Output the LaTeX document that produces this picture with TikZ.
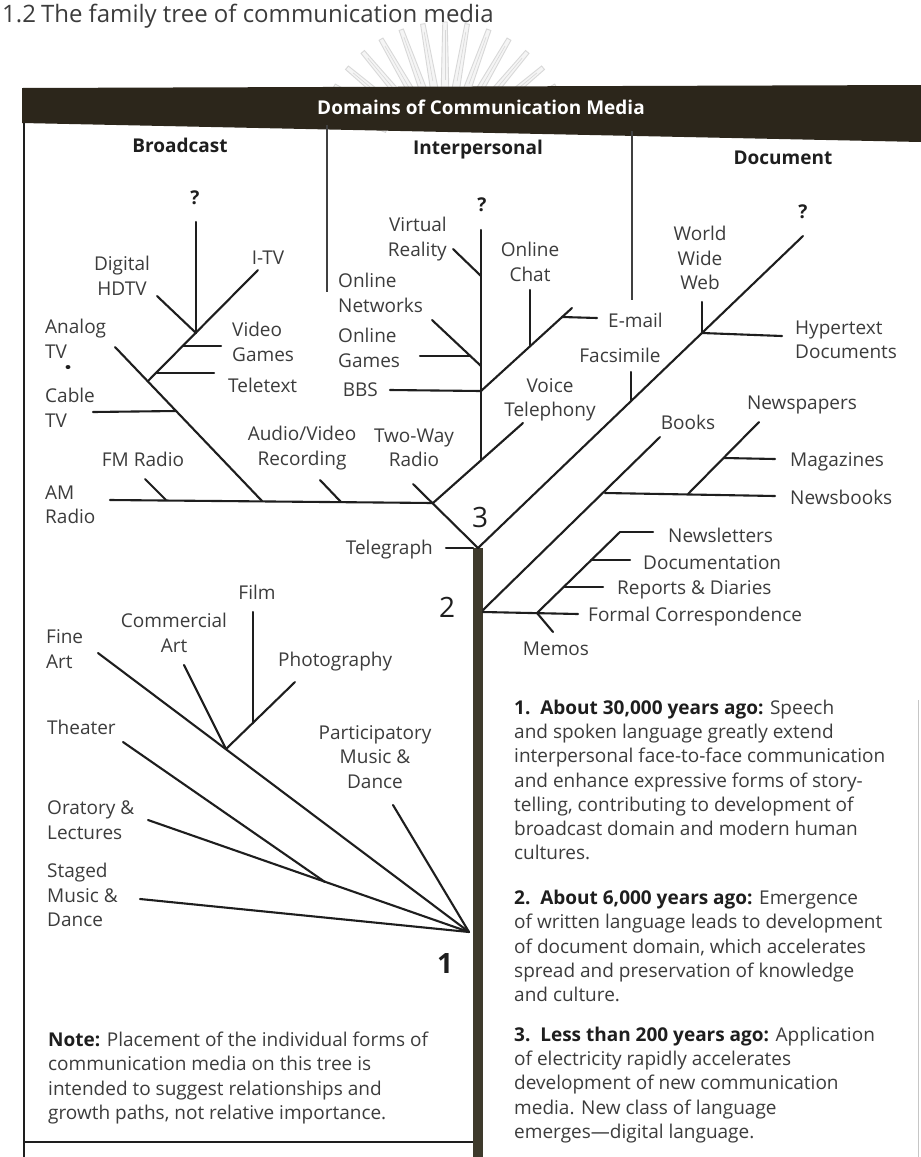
\documentclass[tikz,border=0pt]{standalone}
\usepackage{fontspec}
\setmainfont{Open Sans}
\definecolor{linec}{HTML}{1E1E1E}
\definecolor{txtc}{HTML}{3C3C3C}
\definecolor{barc}{HTML}{2C261B}
\definecolor{trunkc}{HTML}{3E3A2C}
\definecolor{wmc}{HTML}{D8D8D8}
\newcommand\lbfont{\fontsize{19}{24.5}\selectfont}
\newcommand\hdrfont{\fontsize{19}{24}\selectfont\bfseries}
\newcommand\numfont{\fontsize{28}{30}\selectfont}
\newcommand\capfont{\fontsize{24}{30}\selectfont}
\newcommand\parfont{\fontsize{19}{24.2}\selectfont}
\begin{document}
\begin{tikzpicture}[x=1pt,y=-1pt,
  br/.style={draw=linec,line width=2.1pt,line cap=round},
  colline/.style={draw=linec!85,line width=1.6pt},
  frame/.style={draw=linec,line width=2.4pt},
  lbl/.style={font=\lbfont,text=txtc,inner sep=0pt,align=center},
  lbll/.style={lbl,align=left,anchor=west},
  lblr/.style={lbl,align=right,anchor=east},
  hdr/.style={font=\hdrfont,text=linec,inner sep=0pt},
  qm/.style={font=\hdrfont,text=linec,inner sep=0pt},
  num/.style={font=\numfont,text=linec,inner sep=0pt},
  para/.style={font=\parfont,text=txtc,inner sep=0pt,align=left,anchor=west}]
\useasboundingbox (0,0) rectangle (921,1157);
\clip (0,0) rectangle (921,1157);
\fill[white] (0,0) rectangle (921,1157);

% faint emblem behind the header
\begin{scope}[shift={(445,150)}]
  \foreach \a in {-160,-150,...,-20} {
    \filldraw[fill=wmc!25,draw=wmc,line width=0.9pt]
      (\a-3.5:62) -- (\a-1:128) -- (\a+1:128) -- (\a+3.5:62) -- cycle;
    \draw[wmc,line width=0.6pt] (\a:70) -- (\a:120);
  }
\end{scope}

% caption
\node[anchor=base west,font=\capfont,text=txtc,inner sep=0pt] (cap) at (2,22)
  {1.2\hspace{5pt}The family tree of communication media};

% header bar and frame
\fill[barc] (22,88) -- (921,85) -- (921,142) -- (22,123) -- cycle;
\node[font=\hdrfont,text=white,inner sep=0pt] (title) at (481,107) {Domains of Communication Media};
\draw[frame] (24,123) -- (24,1157);
\draw[frame] (24,1142) -- (473,1142);
\draw[draw=gray!45,line width=1pt] (918,700) -- (918,1157);
\draw[colline] (327,125) -- (327,292);
\draw[colline] (632,131) -- (632,300);

\node[hdr] (hB) at (180,145) {Broadcast};
\node[hdr] (hI) at (478,150) {Interpersonal};
\node[hdr] (hD) at (783,158) {Document};

% trunk
\fill[trunkc] (473,548) rectangle (483,1157);

% ---------- broadcast branch ----------
\coordinate (bqt) at (196,222);
\coordinate (bj1) at (196,333);
\coordinate (itvE) at (258,270);
\coordinate (hdE) at (157,296);
\coordinate (bj2) at (148,381);
\coordinate (vg0) at (183,346);
\coordinate (vg1) at (221,346);
\coordinate (tt0) at (157,373);
\coordinate (tt1) at (214,373);
\coordinate (atvE) at (115,347);
\coordinate (ajn) at (262,501);
\coordinate (ctE) at (93,412);
\coordinate (ct0) at (176,411);
\coordinate (amE) at (110,500);
\coordinate (tj) at (433,503);
\coordinate (fmE) at (145,479);
\coordinate (fm0) at (166,500);
\coordinate (avE) at (320,480);
\coordinate (av0) at (341,502);
\coordinate (twE) at (413,484);
\coordinate (j3) at (478,548);
\coordinate (tgE) at (446,548);
\coordinate (tg0) at (473,548);

\draw[br] (bqt) -- (bj1);
\draw[br] (itvE) -- (bj2);
\draw[br] (hdE) -- (bj1);
\draw[br] (vg0) -- (vg1);
\draw[br] (tt0) -- (tt1);
\draw[br] (atvE) -- (ajn);
\draw[br] (ctE) -- (ct0);
\draw[br] (amE) -- (tj);
\draw[br] (fmE) -- (fm0);
\draw[br] (avE) -- (av0);
\draw[br] (twE) -- (j3);
\draw[br] (tgE) -- (tg0);
\fill[linec] (68,367) ellipse (2.5pt and 2pt);

\node[qm] (q1) at (195,198) {?};
\node[lbl] (ldh) at (122,276) {Digital\\HDTV};
\node[lbl] (litv) at (268,258) {I-TV};
\node[lbll] (latv) at (45,339) {Analog\\TV};
\node[lbll] (lvg) at (232,342) {Video\\Games};
\node[lbll] (ltt) at (228,385) {Teletext};
\node[lbll] (lctv) at (45,408) {Cable\\TV};
\node[lbl] (lfm) at (143,459) {FM Radio};
\node[lbll] (lam) at (45,505) {AM\\Radio};
\node[lbl] (lav) at (302,448) {Audio/Video\\Recording};
\node[lbl] (ltw) at (414,448) {Two-Way\\Radio};
\node[lbl,anchor=east] (ltg) at (433,550) {Telegraph};

% ---------- interpersonal branch ----------
\coordinate (iqt) at (481,230);
\coordinate (ij) at (481,460);
\coordinate (vtE) at (523,423);
\coordinate (vrE) at (453,249);
\coordinate (vrj) at (481,276);
\coordinate (onE) at (432,320);
\coordinate (onj) at (481,366);
\coordinate (ogE) at (420,356);
\coordinate (og0) at (470,356);
\coordinate (bbE) at (390,390);
\coordinate (bbj) at (481,391);
\coordinate (emE) at (572,308);
\coordinate (ocE) at (530,290);
\coordinate (ocj) at (530,346);
\coordinate (emj) at (562,317);
\coordinate (em1) at (597,318);

\draw[br] (tj) -- (vtE);
\draw[br] (iqt) -- (ij);
\draw[br] (vrE) -- (vrj);
\draw[br] (onE) -- (onj);
\draw[br] (ogE) -- (og0);
\draw[br] (bbE) -- (bbj);
\draw[br] (bbj) -- (emE);
\draw[br] (ocE) -- (ocj);
\draw[br] (emj) -- (em1);

\node[qm] (q2) at (482,205) {?};
\node[lblr] (lvr) at (447,239) {Virtual\\Reality};
\node[lbll] (lon) at (338,293) {Online\\Networks};
\node[lbll] (log) at (338,348) {Online\\Games};
\node[lbl,anchor=east] (lbbs) at (378,390) {BBS};
\node[lbl] (loc) at (530,262) {Online\\Chat};
\node[lbll] (lem) at (608,320) {E-mail};
\node[lbl] (lfax) at (620,355) {Facsimile};
\node[lbl] (lvt) at (550,400) {Voice\\Telephony};

% ---------- document branch ----------
\coordinate (dqt) at (803,236);
\coordinate (fxE) at (631,372);
\coordinate (fxj) at (631,401);
\coordinate (wwE) at (702,302);
\coordinate (wwj) at (702,333);
\coordinate (htE) at (782,336);
\coordinate (j2) at (483,610);
\coordinate (bkE) at (660,437);
\coordinate (nbj) at (605,493);
\coordinate (nbE) at (775,496);
\coordinate (npE) at (759,422);
\coordinate (npj) at (688,494);
\coordinate (mgj) at (724,458);
\coordinate (mgE) at (775,459);
\coordinate (fcE) at (578,614);
\coordinate (mmj) at (537,613);
\coordinate (mmE) at (553,632);
\coordinate (nlj) at (620,532);
\coordinate (nlE) at (653,532);
\coordinate (dcj) at (591,560);
\coordinate (dcE) at (630,560);
\coordinate (rpj) at (564,587);
\coordinate (rpE) at (603,587);
\coordinate (j2b) at (483,612);

\draw[br] (j3) -- (dqt);
\draw[br] (fxE) -- (fxj);
\draw[br] (wwE) -- (wwj);
\draw[br] (wwj) -- (htE);
\draw[br] (j2) -- (bkE);
\draw[br] (nbj) -- (nbE);
\draw[br] (npE) -- (npj);
\draw[br] (mgj) -- (mgE);
\draw[br] (j2b) -- (fcE);
\draw[br] (mmj) -- (mmE);
\draw[br] (mmj) -- (nlj);
\draw[br] (nlj) -- (nlE);
\draw[br] (dcj) -- (dcE);
\draw[br] (rpj) -- (rpE);

\node[qm] (q3) at (803,212) {?};
\node[lbl] (lwww) at (700,258) {World\\Wide\\Web};
\node[lbll] (lht) at (795,340) {Hypertext\\Documents};
\node[lbl] (lbk) at (688,422) {Books};
\node[lbl] (lnp) at (802,405) {Newspapers};
\node[lbll] (lmg) at (790,462) {Magazines};
\node[lbll] (lnb) at (790,497) {Newsbooks};
\node[lbll] (lnl) at (668,535) {Newsletters};
\node[lbll] (ldc) at (643,563) {Documentation};
\node[lbll] (lrp) at (617,590) {Reports \& Diaries};
\node[lbll] (lfc) at (588,617) {Formal Correspondence};
\node[lbl] (lmm) at (556,649) {Memos};

% ---------- early forms ----------
\coordinate (root) at (469,932);
\coordinate (faE) at (98,653);
\coordinate (caj) at (226,749);
\coordinate (caE) at (184,665);
\coordinate (phE) at (295,682);
\coordinate (flj) at (253,723);
\coordinate (flE) at (253,612);
\coordinate (thE) at (123,742);
\coordinate (thj) at (325,882);
\coordinate (orE) at (148,820);
\coordinate (pmE) at (393,805);
\coordinate (smE) at (140,899);

\draw[br] (faE) -- (root);
\draw[br] (caE) -- (caj);
\draw[br] (phE) -- (caj);
\draw[br] (flE) -- (flj);
\draw[br] (thE) -- (thj);
\draw[br] (orE) -- (root);
\draw[br] (pmE) -- (root);
\draw[br] (smE) -- (root);

\node[lbl] (lfl) at (257,592) {Film};
\node[lbl] (lca) at (174,633) {Commercial\\Art};
\node[lbll] (lfa) at (46,649) {Fine\\Art};
\node[lbll] (lph) at (278,662) {Photography};
\node[lbll] (lth) at (47,727) {Theater};
\node[lbl] (lpm) at (375,757) {Participatory\\Music \&\\Dance};
\node[lbll] (lor) at (47,820) {Oratory \&\\Lectures};
\node[lbll] (lsm) at (47,895) {Staged\\Music \&\\Dance};

% era numbers
\node[num] (n3) at (480,517) {3};
\node[num] (n2) at (447,607) {2};
\node[num,font=\numfont\bfseries] (n1) at (445,963) {1};

% notes
\node[para] (note) at (48,1078)
  {\textbf{\color{linec}Note:} Placement of the individual forms of\\
   communication media on this tree is\\
   intended to suggest relationships and\\
   growth paths, not relative importance.};
\node[para] (e1) at (514,780)
  {\textbf{\color{linec}1.\ \ About 30,000 years ago:} Speech\\
   and spoken language greatly extend\\
   interpersonal face-to-face communication\\
   and enhance expressive forms of story-\\
   telling, contributing to development of\\
   broadcast domain and modern human\\
   cultures.};
\node[para] (e2) at (514,946)
  {\textbf{\color{linec}2.\ \ About 6,000 years ago:} Emergence\\
   of written language leads to development\\
   of document domain, which accelerates\\
   spread and preservation of knowledge\\
   and culture.};
\node[para] (e3) at (514,1085)
  {\textbf{\color{linec}3.\ \ Less than 200 years ago:} Application\\
   of electricity rapidly accelerates\\
   development of new communication\\
   media. New class of language\\
   emerges---digital language.};
\end{tikzpicture}
\end{document}
